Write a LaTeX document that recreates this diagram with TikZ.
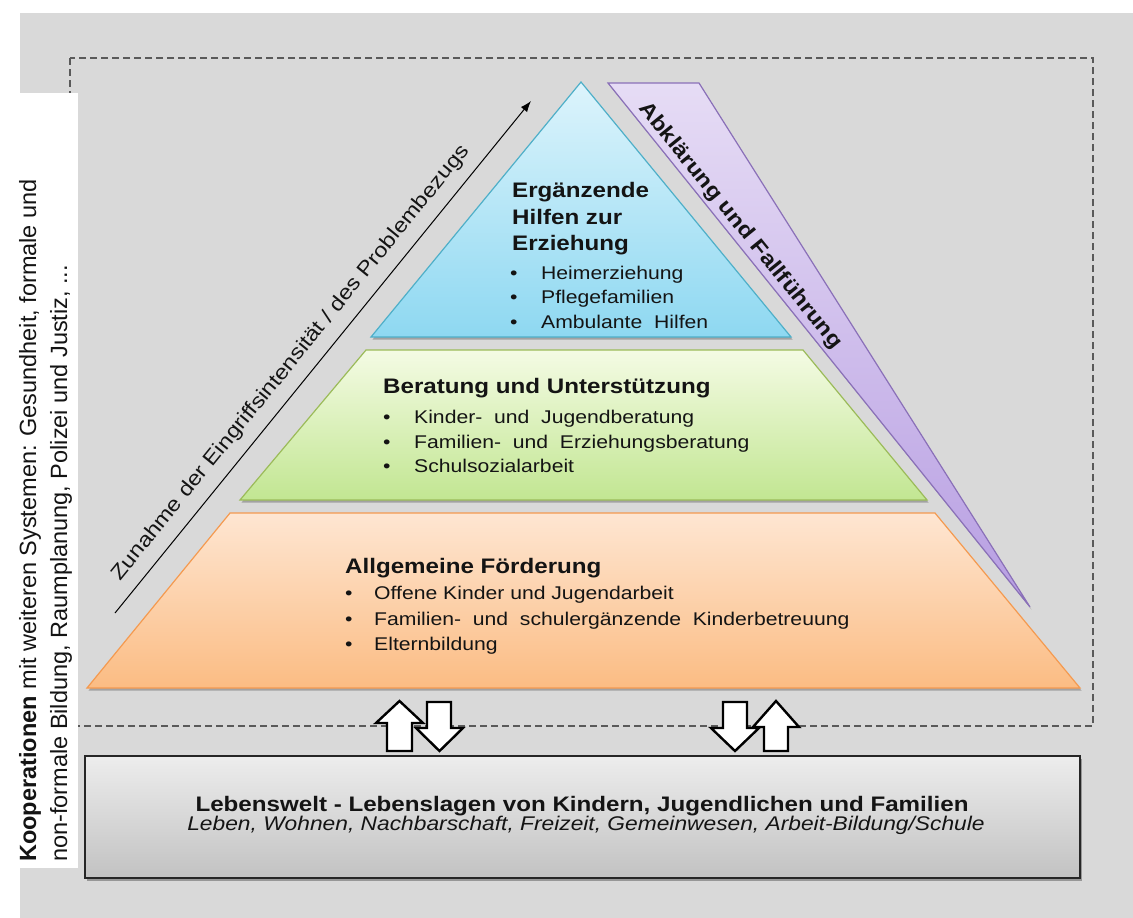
\documentclass[tikz,border=0pt]{standalone}
\usepackage{fontspec}
\setmainfont{Liberation Sans}
\newfontfamily\ls[FakeStretch=1.15]{Liberation Sans}
\newfontfamily\lsn{Liberation Sans}
\usetikzlibrary{arrows.meta,shadows,calc}
\definecolor{bg}{HTML}{D9D9D9}
\definecolor{dashc}{HTML}{5A5A5A}
\definecolor{txt}{HTML}{141414}
\definecolor{blueT}{HTML}{DDF4FC}
\definecolor{blueB}{HTML}{8ED8F1}
\definecolor{blueE}{HTML}{4FAFC8}
\definecolor{greenT}{HTML}{F4FBE4}
\definecolor{greenB}{HTML}{C2E692}
\definecolor{greenE}{HTML}{9BBB59}
\definecolor{oranT}{HTML}{FEE6D2}
\definecolor{oranB}{HTML}{FBBC83}
\definecolor{oranE}{HTML}{F49A50}
\definecolor{purT}{HTML}{E6DCF5}
\definecolor{purB}{HTML}{B79EE2}
\definecolor{purE}{HTML}{8A70B8}
\definecolor{boxT}{HTML}{EDEDED}
\definecolor{boxB}{HTML}{C2C2C2}
\tikzset{
  layer/.style={line width=1.2pt, line join=miter,
    drop shadow={shadow xshift=1.5pt, shadow yshift=-2.5pt, opacity=0.25, fill=black}},
  dashline/.style={draw=dashc, line width=1.2pt, dash pattern=on 7pt off 4pt},
  head/.style={anchor=base west, inner sep=0pt, text=txt, font=\ls\bfseries\fontsize{21}{25}\selectfont},
  item/.style={anchor=base west, inner sep=0pt, text=txt, font=\ls\fontsize{18.4}{22}\selectfont},
  vt/.style={anchor=base west, inner sep=0pt, rotate=90, text=txt, font=\lsn\fontsize{23.5}{28}\selectfont},
  blk/.style={draw=black, fill=white, line width=2.4pt, line join=miter},
}
\newcommand{\bul}[1]{\makebox[#1][l]{\textbullet}}
\begin{document}
\begin{tikzpicture}[x=1pt,y=-1pt]
\useasboundingbox (0,0) rectangle (1133,918);
\fill[white] (0,0) rectangle (1133,918);
\fill[bg] (20,13) rectangle (1133,918);
\draw[dashline] (70,58) rectangle (1093,726);

% pyramid layers
\coordinate (oBL) at (87,688);
\coordinate (oTL) at (230,513);
\coordinate (oTR) at (935,513);
\coordinate (oBR) at (1080,688);
\path[layer, draw=oranE, top color=oranT, bottom color=oranB] (oBL) -- (oTL) -- (oTR) -- (oBR) -- cycle;

\coordinate (gBL) at (240,500);
\coordinate (gTL) at (366,350);
\coordinate (gTR) at (803,350);
\coordinate (gBR) at (927,500);
\path[layer, draw=greenE, top color=greenT, bottom color=greenB] (gBL) -- (gTL) -- (gTR) -- (gBR) -- cycle;

\coordinate (bBL) at (371,337);
\coordinate (bTop) at (581,82);
\coordinate (bBR) at (791,337);
\path[layer, draw=blueE, top color=blueT, bottom color=blueB] (bBL) -- (bTop) -- (bBR) -- cycle;

\coordinate (pTL) at (608,83);
\coordinate (pTR) at (699,83);
\coordinate (pTip) at (1030,607);
\path[layer, draw=purE, top color=purT, bottom color=purB] (pTL) -- (pTR) -- (pTip) -- cycle;

% texts in the pyramid
\node[head] (h1a) at (512,197) {Ergänzende};
\node[head] (h1b) at (512,224) {Hilfen zur};
\node[head] (h1c) at (512,250) {Erziehung};
\node[item] (i1a) at (510,279) {\bul{31pt}Heimerziehung};
\node[item] (i1b) at (510,303.5) {\bul{31pt}Pflegefamilien};
\node[item] (i1c) at (510,328) {\bul{31pt}Ambulante\ \ Hilfen};

\node[head] (h2) at (383,393) {Beratung und Unterstützung};
\node[item] (i2a) at (383,423) {\bul{31pt}Kinder-\ \ und\ \ Jugendberatung};
\node[item] (i2b) at (383,448) {\bul{31pt}Familien-\ \ und\ \ Erziehungsberatung};
\node[item] (i2c) at (383,472) {\bul{31pt}Schulsozialarbeit};

\node[head] (h3) at (345,573) {Allgemeine Förderung};
\node[item] (i3a) at (345,599) {\bul{29pt}Offene Kinder und Jugendarbeit};
\node[item] (i3b) at (345,625) {\bul{29pt}Familien-\ \ und\ \ schulergänzende\ \ Kinderbetreuung};
\node[item] (i3c) at (345,650) {\bul{29pt}Elternbildung};

\node[rotate=-51, inner sep=0pt, text=txt, font=\ls\bfseries\fontsize{21}{25}\selectfont] (abk) at (740,226) {Abklärung und Fallführung};

% intensity arrow
\coordinate (z1) at (115,613);
\coordinate (z2) at (531,101);
\draw[line width=1pt, -{Latex[length=11pt,width=8pt]}] (z1) -- (z2);
\node[rotate=50.9, inner sep=0pt, text=txt, font=\ls\fontsize{20.5}{24}\selectfont] (zun) at (291,363) {Zunahme der Eingriffsintensität / des Problembezugs};

% left white box with vertical text
\fill[white] (0,93) rectangle (78,868);
\node[vt] (koop1) at (36,862) {\textbf{Kooperationen} mit weiteren Systemen: Gesundheit, formale und};
\node[vt] (koop2) at (67,862) {non-formale Bildung, Raumplanung, Polizei und Justiz, ...};

% block arrows
\draw[blk] (387,751) -- (387,723) -- (376,723) -- (399.5,701) -- (423,723) -- (412,723) -- (412,751) -- cycle;
\draw[blk] (427,702) -- (451,702) -- (451,728) -- (463,728) -- (439.5,751) -- (416,728) -- (427,728) -- cycle;
\draw[blk] (723,702) -- (747,702) -- (747,728) -- (759,728) -- (735,751) -- (711,728) -- (723,728) -- cycle;
\draw[blk] (764,751) -- (764,727) -- (753,727) -- (776,701) -- (799,727) -- (788,727) -- (788,751) -- cycle;

% bottom box
\path[draw=black!85, line width=2pt, top color=boxT, bottom color=boxB,
  drop shadow={shadow xshift=1.5pt, shadow yshift=-3pt, opacity=0.3, fill=black}] (85,756) rectangle (1080,878);
\node[anchor=base, inner sep=0pt, text=txt, font=\ls\bfseries\fontsize{21}{25}\selectfont] (lw1) at (582,811) {Lebenswelt - Lebenslagen von Kindern, Jugendlichen und Familien};
\node[anchor=base, inner sep=0pt, text=txt, font=\ls\itshape\fontsize{19.8}{24}\selectfont] (lw2) at (586,830) {Leben, Wohnen, Nachbarschaft, Freizeit, Gemeinwesen, Arbeit-Bildung/Schule};
\end{tikzpicture}
\end{document}
